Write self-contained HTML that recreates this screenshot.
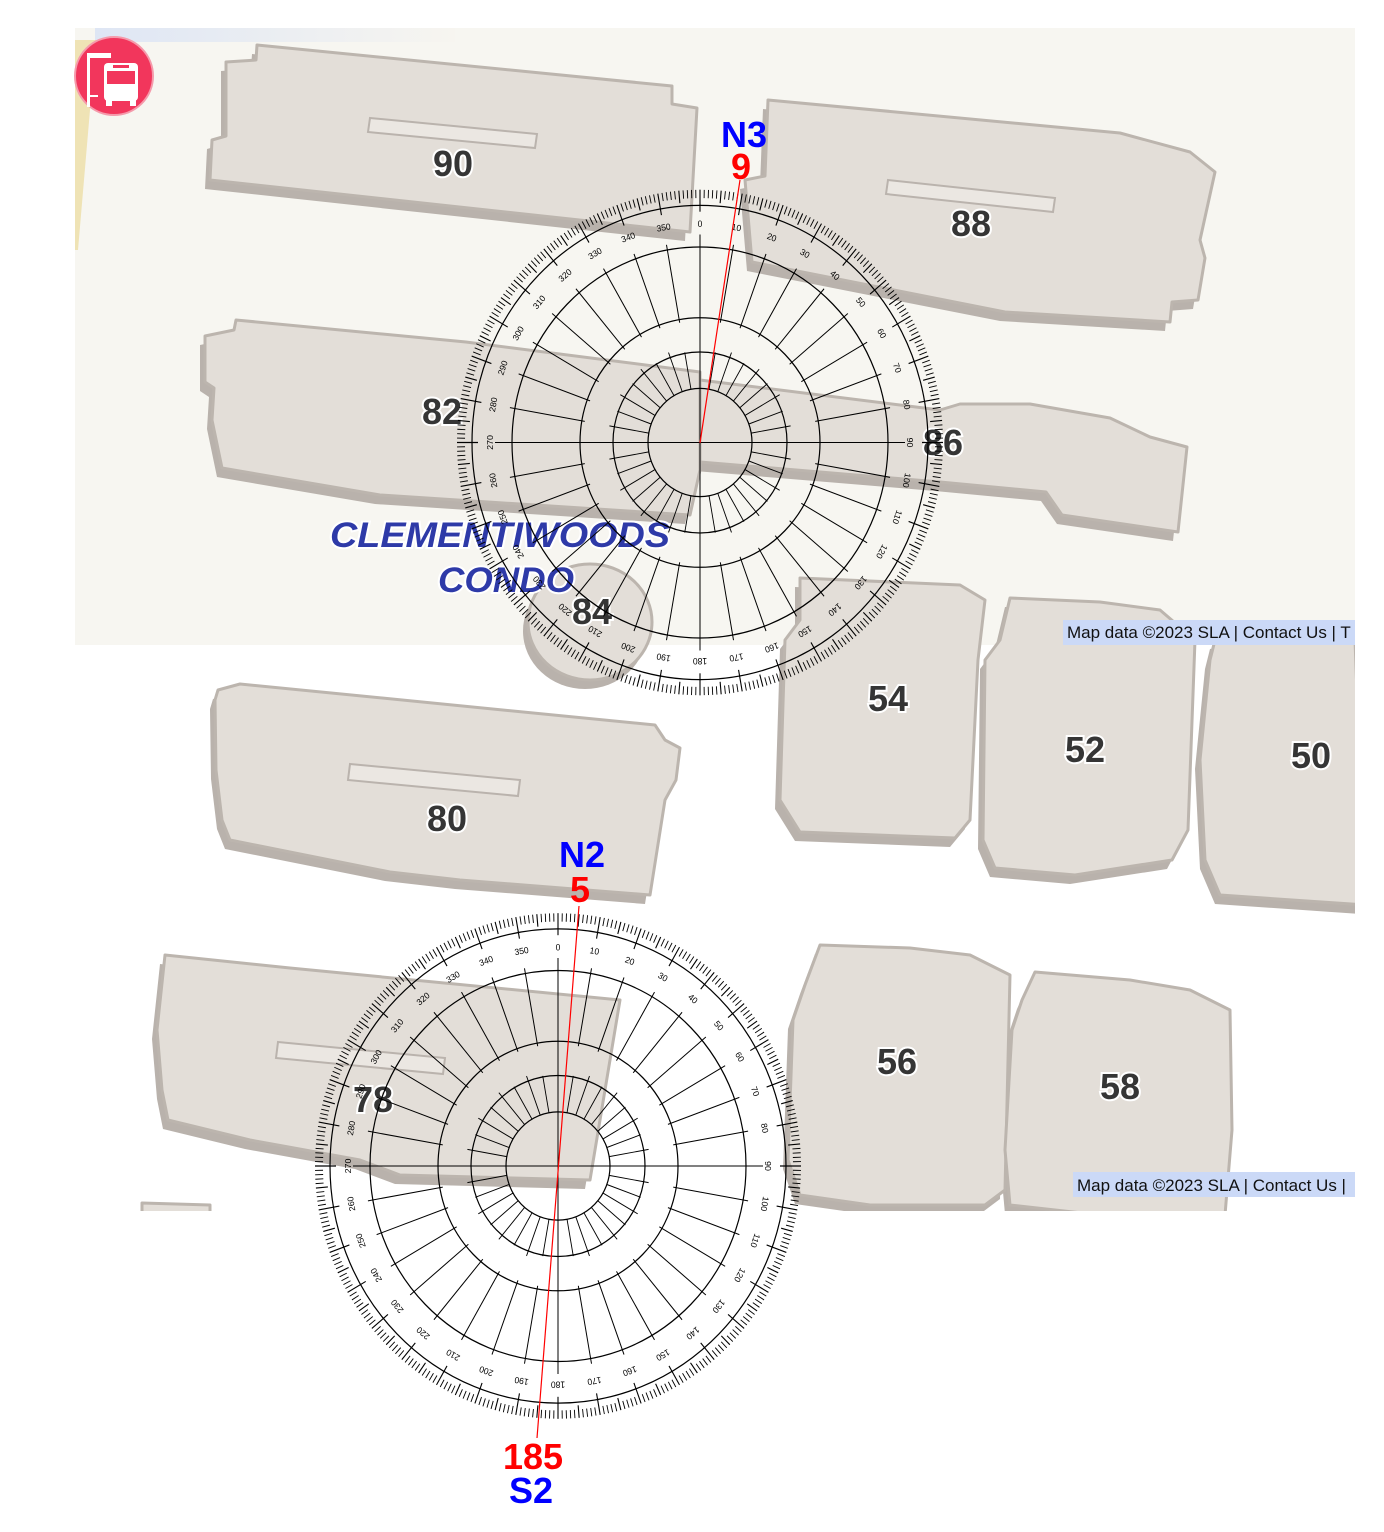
<!DOCTYPE html>
<html><head><meta charset="utf-8"><style>
html,body{margin:0;padding:0;background:#fff}
svg{display:block}
.b{fill:#e3ded8;stroke:#bcb5ae;stroke-width:3;stroke-linejoin:round}
.s{fill:#b9b2ac}
.c{fill:#ebe7e2;stroke:#bab3ad;stroke-width:2}
.num{font:bold 36px "Liberation Sans",sans-serif;fill:#353535;stroke:#fff;stroke-width:4;paint-order:stroke;text-anchor:middle}
.pl line{stroke:#000;stroke-width:1}
.pl circle{fill:none;stroke:#000;stroke-width:1.2}
.lbl text{font:8.5px "Liberation Sans",sans-serif;fill:#000;text-anchor:middle}
.md{font:17px "Liberation Sans",sans-serif;fill:#111}
.big{font:bold 36px "Liberation Sans",sans-serif;text-anchor:middle}
</style></head><body>
<svg width="1384" height="1532" viewBox="0 0 1384 1532" xmlns="http://www.w3.org/2000/svg">
<defs>
<linearGradient id="tg" x1="0" x2="1" y1="0" y2="0"><stop offset="0" stop-color="#d8e2f5"/><stop offset="1" stop-color="#f7f5f0"/></linearGradient>
<clipPath id="cl"><rect x="0" y="0" width="1355" height="1532"/></clipPath>
<clipPath id="cl2"><rect x="0" y="0" width="1355" height="1211"/></clipPath>
</defs>
<rect x="75" y="28" width="1280" height="617" fill="#f7f6f1"/>
<rect x="95" y="28" width="360" height="14" fill="url(#tg)" opacity="0.8"/>
<polygon points="75,40 96,40 78,250 75,250" fill="#efe3b5"/>

<g clip-path="url(#cl2)">
<g class="s" transform="translate(-5,9)">
<polygon points="226,62 256,60 257,45 672,86 672,104 697,108 690,232 210,180 212,140 226,136"/>
<polygon points="768,100 1120,133 1190,152 1215,172 1200,240 1205,258 1198,300 1172,302 1170,322 1005,312 752,262 745,180 765,176"/>
<polygon points="205,336 234,330 236,320 466,342 700,372 700,470 690,515 380,495 222,468 212,420 214,388 205,382"/>
<polygon points="700,380 940,410 960,404 1030,404 1110,418 1150,437 1187,447 1178,532 1062,515 1046,492 940,482 700,462"/>
<ellipse cx="590" cy="622" rx="62" ry="58"/>
<polygon points="800,578 960,585 985,600 978,660 970,820 955,838 800,832 780,800 785,640 800,620"/>
<polygon points="1010,598 1100,602 1160,610 1195,640 1188,830 1172,860 1075,875 995,868 983,840 985,660 1000,640"/>
<polygon points="1215,640 1260,632 1355,640 1365,905 1220,895 1205,860 1200,760 1210,660"/>
<polygon points="218,690 240,684 655,725 665,740 680,748 676,780 665,800 650,895 460,880 390,872 230,840 222,820 216,770 215,700"/>
<polygon points="165,955 290,968 620,1000 590,1180 400,1175 360,1160 250,1140 168,1120 162,1090 157,1030"/>
<polygon points="820,945 910,948 970,955 1010,975 1005,1190 985,1205 870,1205 800,1195 788,1160 793,1020 805,985"/>
<polygon points="1035,972 1130,980 1190,990 1230,1010 1232,1130 1225,1215 1100,1215 1010,1205 1005,1150 1012,1030 1022,1000"/>
</g>
<polygon class="b" points="226,62 256,60 257,45 672,86 672,104 697,108 690,232 210,180 212,140 226,136"/>
<polygon class="c" points="370,118 537,134 535,148 368,132"/>
<polygon class="b" points="768,100 1120,133 1190,152 1215,172 1200,240 1205,258 1198,300 1172,302 1170,322 1005,312 752,262 745,180 765,176"/>
<polygon class="c" points="888,180 1055,198 1053,212 886,194"/>
<polygon class="b" points="205,336 234,330 236,320 466,342 700,372 700,470 690,515 380,495 222,468 212,420 214,388 205,382"/>
<polygon class="b" points="700,380 940,410 960,404 1030,404 1110,418 1150,437 1187,447 1178,532 1062,515 1046,492 940,482 700,462"/>
<ellipse class="b" cx="590" cy="622" rx="62" ry="58"/>
<polygon class="b" points="800,578 960,585 985,600 978,660 970,820 955,838 800,832 780,800 785,640 800,620"/>
<polygon class="b" points="1010,598 1100,602 1160,610 1195,640 1188,830 1172,860 1075,875 995,868 983,840 985,660 1000,640"/>
<polygon class="b" points="1215,640 1260,632 1355,640 1365,905 1220,895 1205,860 1200,760 1210,660"/>
<polygon class="b" points="218,690 240,684 655,725 665,740 680,748 676,780 665,800 650,895 460,880 390,872 230,840 222,820 216,770 215,700"/>
<polygon class="c" points="350,764 520,780 518,796 348,780"/>
<polygon class="b" points="165,955 290,968 620,1000 590,1180 400,1175 360,1160 250,1140 168,1120 162,1090 157,1030"/>
<polygon class="c" points="278,1042 445,1058 443,1074 276,1058"/>
<polygon class="b" points="820,945 910,948 970,955 1010,975 1005,1190 985,1205 870,1205 800,1195 788,1160 793,1020 805,985"/>
<polygon class="b" points="1035,972 1130,980 1190,990 1230,1010 1232,1130 1225,1215 1100,1215 1010,1205 1005,1150 1012,1030 1022,1000"/>
<polygon class="b" points="142,1203 210,1205 210,1214 142,1214"/>
</g>
<rect x="1355" y="0" width="29" height="1532" fill="#fff"/>

<circle cx="114" cy="76" r="39" fill="#f2365c" stroke="#f59aab" stroke-width="2"/>
<rect x="87" y="53" width="24" height="5" fill="#fff"/>
<rect x="87" y="53" width="3" height="54" fill="#fff"/>
<rect x="90" y="95" width="8" height="2" fill="#fff"/>
<rect x="104" y="63" width="34" height="38" rx="4" fill="#fff"/>
<rect x="107" y="71" width="28" height="13" fill="#f2365c"/>
<rect x="106" y="99" width="6" height="7" fill="#fff"/>
<rect x="130" y="99" width="6" height="7" fill="#fff"/>
<rect x="113" y="65" width="16" height="3" fill="#f2365c"/>

<text class="num" x="453" y="176">90</text>
<text class="num" x="971" y="236">88</text>
<text class="num" x="442" y="424">82</text>
<text class="num" x="943" y="455">86</text>
<text class="num" x="592" y="624">84</text>
<text class="num" x="888" y="711">54</text>
<text class="num" x="1085" y="762">52</text>
<text class="num" x="1311" y="768">50</text>
<text class="num" x="447" y="831">80</text>
<text class="num" x="373" y="1112">78</text>
<text class="num" x="897" y="1074">56</text>
<text class="num" x="1120" y="1099">58</text>
<g style="font:italic bold 35px 'Liberation Sans',sans-serif;fill:#2e3aa8;stroke:#fff;stroke-width:4;paint-order:stroke">
<text x="330" y="547" textLength="340" lengthAdjust="spacingAndGlyphs">CLEMENTIWOODS</text>
<text x="438" y="592" textLength="136" lengthAdjust="spacingAndGlyphs">CONDO</text>
</g>

<g clip-path="url(#cl)">
<rect x="1063" y="620" width="292" height="25" fill="#cbd9f7"/>
<text class="md" x="1067" y="638">Map data ©2023 SLA | Contact Us | T</text>
<rect x="1073" y="1172" width="282" height="25" fill="#cbd9f7"/>
<text class="md" x="1077" y="1191">Map data ©2023 SLA | Contact Us |</text>
</g>

<g class="pl" id="p1" transform="translate(700,442.5) scale(1,1.04)">
<g class="lbl">
<text transform="rotate(0) translate(0,-207)">0</text><text transform="rotate(10) translate(0,-207)">10</text><text transform="rotate(20) translate(0,-207)">20</text><text transform="rotate(30) translate(0,-207)">30</text><text transform="rotate(40) translate(0,-207)">40</text><text transform="rotate(50) translate(0,-207)">50</text><text transform="rotate(60) translate(0,-207)">60</text><text transform="rotate(70) translate(0,-207)">70</text><text transform="rotate(80) translate(0,-207)">80</text><text transform="rotate(90) translate(0,-207)">90</text><text transform="rotate(100) translate(0,-207)">100</text><text transform="rotate(110) translate(0,-207)">110</text><text transform="rotate(120) translate(0,-207)">120</text><text transform="rotate(130) translate(0,-207)">130</text><text transform="rotate(140) translate(0,-207)">140</text><text transform="rotate(150) translate(0,-207)">150</text><text transform="rotate(160) translate(0,-207)">160</text><text transform="rotate(170) translate(0,-207)">170</text><text transform="rotate(180) translate(0,-207)">180</text><text transform="rotate(190) translate(0,-207)">190</text><text transform="rotate(200) translate(0,-207)">200</text><text transform="rotate(210) translate(0,-207)">210</text><text transform="rotate(220) translate(0,-207)">220</text><text transform="rotate(230) translate(0,-207)">230</text><text transform="rotate(240) translate(0,-207)">240</text><text transform="rotate(250) translate(0,-207)">250</text><text transform="rotate(260) translate(0,-207)">260</text><text transform="rotate(270) translate(0,-207)">270</text><text transform="rotate(280) translate(0,-207)">280</text><text transform="rotate(290) translate(0,-207)">290</text><text transform="rotate(300) translate(0,-207)">300</text><text transform="rotate(310) translate(0,-207)">310</text><text transform="rotate(320) translate(0,-207)">320</text><text transform="rotate(330) translate(0,-207)">330</text><text transform="rotate(340) translate(0,-207)">340</text><text transform="rotate(350) translate(0,-207)">350</text>
</g>
</g>
<g class="pl" id="p2" transform="translate(558,1166) scale(1,1.04)">
<g class="lbl">
<text transform="rotate(0) translate(0,-207)">0</text><text transform="rotate(10) translate(0,-207)">10</text><text transform="rotate(20) translate(0,-207)">20</text><text transform="rotate(30) translate(0,-207)">30</text><text transform="rotate(40) translate(0,-207)">40</text><text transform="rotate(50) translate(0,-207)">50</text><text transform="rotate(60) translate(0,-207)">60</text><text transform="rotate(70) translate(0,-207)">70</text><text transform="rotate(80) translate(0,-207)">80</text><text transform="rotate(90) translate(0,-207)">90</text><text transform="rotate(100) translate(0,-207)">100</text><text transform="rotate(110) translate(0,-207)">110</text><text transform="rotate(120) translate(0,-207)">120</text><text transform="rotate(130) translate(0,-207)">130</text><text transform="rotate(140) translate(0,-207)">140</text><text transform="rotate(150) translate(0,-207)">150</text><text transform="rotate(160) translate(0,-207)">160</text><text transform="rotate(170) translate(0,-207)">170</text><text transform="rotate(180) translate(0,-207)">180</text><text transform="rotate(190) translate(0,-207)">190</text><text transform="rotate(200) translate(0,-207)">200</text><text transform="rotate(210) translate(0,-207)">210</text><text transform="rotate(220) translate(0,-207)">220</text><text transform="rotate(230) translate(0,-207)">230</text><text transform="rotate(240) translate(0,-207)">240</text><text transform="rotate(250) translate(0,-207)">250</text><text transform="rotate(260) translate(0,-207)">260</text><text transform="rotate(270) translate(0,-207)">270</text><text transform="rotate(280) translate(0,-207)">280</text><text transform="rotate(290) translate(0,-207)">290</text><text transform="rotate(300) translate(0,-207)">300</text><text transform="rotate(310) translate(0,-207)">310</text><text transform="rotate(320) translate(0,-207)">320</text><text transform="rotate(330) translate(0,-207)">330</text><text transform="rotate(340) translate(0,-207)">340</text><text transform="rotate(350) translate(0,-207)">350</text>
</g>
</g>

<line x1="700" y1="443" x2="740" y2="180" stroke="#f00" stroke-width="1.2"/>
<line x1="579" y1="906" x2="537" y2="1438" stroke="#f00" stroke-width="1.2"/>
<text class="big" x="744" y="147" fill="#0000ff">N3</text>
<text class="big" x="741" y="179" fill="#ff0000">9</text>
<text class="big" x="582" y="867" fill="#0000ff">N2</text>
<text class="big" x="580" y="902" fill="#ff0000">5</text>
<text class="big" x="533" y="1469" fill="#ff0000">185</text>
<text class="big" x="531" y="1503" fill="#0000ff">S2</text>
</svg>
<script>
(function(){
var NS="http://www.w3.org/2000/svg";
function L(g,a,r1,r2,w){var t=a*Math.PI/180,s=Math.sin(t),c=-Math.cos(t);var l=document.createElementNS(NS,"line");l.setAttribute("x1",(r1*s).toFixed(2));l.setAttribute("y1",(r1*c).toFixed(2));l.setAttribute("x2",(r2*s).toFixed(2));l.setAttribute("y2",(r2*c).toFixed(2));if(w)l.setAttribute("style","stroke-width:"+w);g.appendChild(l);}
function C(g,r){var e=document.createElementNS(NS,"circle");e.setAttribute("r",r);e.setAttribute("cx",0);e.setAttribute("cy",0);g.appendChild(e);}
["p1","p2"].forEach(function(id){
var g=document.getElementById(id);
for(var a=0;a<360;a++){
var ri=a%10==0?222:(a%5==0?231:235);
L(g,a,ri,243,a%5==0?1.1:0.9);
if(a%10==0&&a%90!=0)L(g,a,117,193);
if(a%10==0&&a%90!=0)L(g,a,52,a%20==0?92:88,0.9);
}
[228,188,120,87,52].forEach(function(r){C(g,r);});
var h=document.createElementNS(NS,"line");h.setAttribute("x1",-205);h.setAttribute("x2",205);h.setAttribute("y1",0);h.setAttribute("y2",0);g.appendChild(h);
var v=document.createElementNS(NS,"line");v.setAttribute("x1",0);v.setAttribute("x2",0);v.setAttribute("y1",-200);v.setAttribute("y2",200);g.appendChild(v);
L(g,0,222,243);L(g,180,222,243);L(g,90,222,243);L(g,270,222,243);
});
})();
</script>
</body></html>
